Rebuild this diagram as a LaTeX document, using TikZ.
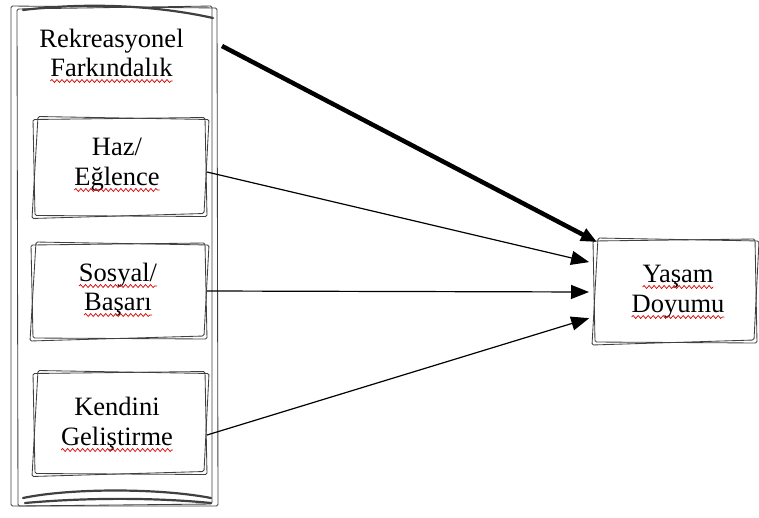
\documentclass[tikz,border=0pt]{standalone}
\usepackage{fontspec}
\setmainfont{Liberation Serif}
\usetikzlibrary{arrows.meta,calc,decorations.pathmorphing}
\tikzset{
  sk/.style={line width=0.85pt, draw=black!75, rounded corners=1.5pt},
  skdark/.style={line width=2.2pt, draw=black!75, line cap=round},
  box/.style={inner sep=0pt, outer sep=0pt},
  txt/.style={inner sep=0pt, outer sep=0pt, anchor=base, font=\fontsize{26.5}{29}\selectfont},
  squig/.style={draw=red!85!black, line width=0.7pt, decorate, decoration={snake, amplitude=1.5pt, segment length=5pt}},
  thinarrow/.style={line width=1.2pt, -{Triangle[length=18pt,width=14pt]}, shorten >=4pt},
  thickarrow/.style={line width=4.5pt, -{Triangle[length=16pt,width=13pt]}}
}
\newcommand\skbox[1]{%
  \draw[sk] ($(#1.north west)+(0,1)$) -- ($(#1.north east)+(-2,-1)$) -- ($(#1.south east)+(0,1)$) -- ($(#1.south west)+(2,0)$) -- cycle;
  \draw[sk] ($(#1.north west)+(5,-2)$) -- ($(#1.north east)+(2,1)$) -- ($(#1.south east)+(-3,-2)$) -- ($(#1.south west)+(-1,3)$) -- cycle;
}
\newcommand\squiggle[1]{\draw[squig] ($(#1.base west)+(0,5)$) -- ($(#1.base east)+(0,5)$);}
\begin{document}
\begin{tikzpicture}[x=1pt,y=-1pt]
\useasboundingbox (0,0) rectangle (759,517);
% outer box
\node[box, minimum width=206pt, minimum height=500pt] (outer) at (114,256) {};
\draw[sk] ($(outer.north west)+(0,0)$) -- ($(outer.north east)+(0,2)$) -- ($(outer.south east)+(1,0)$) -- ($(outer.south west)+(0,0)$) -- cycle;
\draw[sk] ($(outer.north west)+(6,3)$) -- ($(outer.north east)+(-5,0)$) -- ($(outer.south east)+(-5,-2)$) -- ($(outer.south west)+(7,0)$) -- cycle;
\draw[skdark] ($(outer.north west)+(12,4)$) .. controls (80,3) and (150,4) .. ($(outer.north east)+(-4,12)$);
\draw[skdark] ($(outer.south west)+(12,-8)$) .. controls (70,488) and (160,488) .. ($(outer.south east)+(-6,-8)$);
\draw[skdark] ($(outer.south west)+(14,-3)$) .. controls (80,498) and (150,497) .. ($(outer.south east)+(-6,-3)$);
% title
\node[txt] (rk) at (111.5,47) {Rekreasyonel};
\node[txt] (fk) at (111.5,76) {Farkındalık};
\squiggle{fk}
% Haz / Eğlence
\node[box, minimum width=174pt, minimum height=97pt] (haz) at (120,167) {};
\skbox{haz}
\node[txt] (hz) at (117,155) {Haz/};
\node[txt] (eg) at (117,185) {Eğlence};
\squiggle{eg}
% Sosyal / Başarı
\node[box, minimum width=176pt, minimum height=94pt] (sos) at (119,291) {};
\skbox{sos}
\node[txt] (so) at (118,281) {Sosyal/};
\node[txt] (ba) at (118,310) {Başarı};
\squiggle{so}
\squiggle{ba}
% Kendini Geliştirme
\node[box, minimum width=174pt, minimum height=101pt] (ken) at (120,423) {};
\skbox{ken}
\node[txt] (kd) at (117,415) {Kendini};
\node[txt] (gl) at (117,445) {Geliştirme};
\squiggle{gl}
% Yaşam Doyumu
\node[box, minimum width=164pt, minimum height=102pt] (ys) at (675,291) {};
\skbox{ys}
\node[txt] (ya) at (678,282) {Yaşam};
\node[txt] (do) at (678,312) {Doyumu};
\squiggle{ya}
\squiggle{do}
% arrows
\coordinate (ta) at ($(outer.north east)+(5,40)$);
\draw[thickarrow] (ta) -- ($(ys.north west)+(4,2)$);
\draw[thinarrow] ($(haz.east)+(0,5)$) -- ($(ys.west)+(0,-28)$);
\draw[thinarrow] (sos.east) -- ($(ys.west)+(0,1)$);
\draw[thinarrow] ($(ken.east)+(0,12)$) -- ($(ys.west)+(0,26)$);
\end{tikzpicture}
\end{document}
